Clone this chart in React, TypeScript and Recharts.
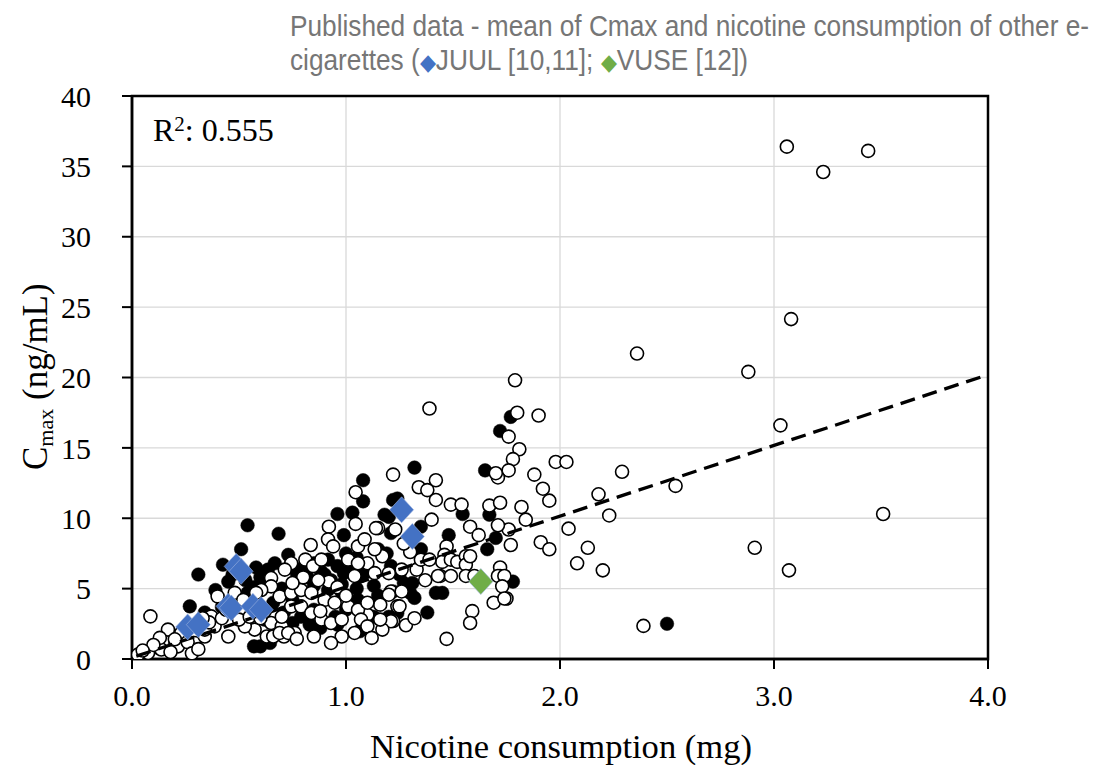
import React from "react";
import { ScatterChart, Scatter, XAxis, YAxis, CartesianGrid, ReferenceArea } from "recharts";

// Nicotine consumption (mg) vs Cmax (ng/mL)
const openCircles: [number, number][] = [
  [3.06, 36.4], [3.44, 36.1], [3.23, 34.6], [3.08, 24.15], [2.36, 21.7], [2.88, 20.4], [3.03, 16.6], [3.51, 10.3], [2.91, 7.9], [3.07, 6.3], [2.39, 2.35],
  [1.79, 19.8], [1.39, 17.8], [1.8, 17.5], [1.9, 17.3], [1.76, 15.8], [1.81, 14.9], [1.78, 14.2], [1.76, 13.4], [1.71, 12.9], [1.88, 13.1], [1.98, 14.0], [2.03, 14.0],
  [1.92, 12.1], [1.95, 11.25], [2.29, 13.3], [2.18, 11.7], [2.54, 12.3], [2.23, 10.2], [2.04, 9.26], [1.82, 10.8], [1.84, 9.9], [1.76, 9.2], [1.77, 8.1], [1.91, 8.3],
  [1.95, 7.8], [2.13, 7.9], [2.08, 6.8], [2.2, 6.3], [1.75, 4.3], [1.72, 6.5], [1.72, 5.9],
  [1.22, 13.1], [1.42, 12.7], [1.34, 12.2], [1.38, 12.0], [1.42, 11.3], [1.49, 10.97], [1.54, 10.97], [1.67, 10.9], [1.72, 11.1], [1.7, 13.2],
  [1.15, 9.3], [1.23, 9.2], [1.4, 9.9], [1.58, 9.4], [1.62, 8.8], [1.71, 9.5], [1.47, 8.0], [1.46, 7.4], [1.45, 6.9], [1.49, 7.06], [1.52, 6.9], [1.56, 7.3],
  [1.56, 6.7], [1.58, 7.3], [1.44, 5.9], [1.49, 5.9], [1.56, 5.9], [1.6, 5.9], [1.71, 5.9], [1.74, 5.9], [1.73, 5.16], [1.69, 4.0], [1.74, 4.3], [1.59, 3.4],
  [1.58, 2.56], [1.47, 1.43], [1.21, 4.8], [1.26, 4.8], [1.24, 3.74], [1.22, 2.7], [1.26, 6.35], [1.33, 6.35], [1.37, 5.6], [1.43, 5.9], [1.35, 7.06], [1.39, 7.06],
  [1.17, 7.3], [1.2, 6.1], [1.2, 4.57], [1.25, 3.74], [1.16, 3.86], [1.21, 2.68], [1.17, 2.09], [1.16, 2.8], [1.1, 3.15],
  [1.045, 11.85], [0.92, 9.4], [1.045, 9.6], [1.14, 9.3], [0.835, 8.1], [0.086, 3.03], [0.916, 8.5], [0.94, 8.0], [0.81, 7.06], [0.846, 6.6], [0.885, 7.06],
  [0.744, 6.8], [0.714, 6.35], [0.65, 5.75], [0.65, 5.16], [0.604, 4.9], [0.58, 4.7], [0.48, 4.7], [0.4, 4.45], [0.69, 4.45], [0.744, 4.7], [0.79, 4.9],
  [0.838, 4.7], [0.9, 4.2], [0.947, 4.0], [1.01, 3.74], [1.056, 3.5], [1.1, 4.0], [0.744, 3.74], [0.79, 3.74], [0.838, 3.27], [0.885, 2.8], [0.93, 2.56],
  [0.98, 2.8], [0.65, 2.56], [0.7, 2.32], [0.573, 2.09], [0.527, 2.32], [0.45, 1.6], [0.293, 1.14], [0.215, 0.9], [0.137, 0.67], [0.075, 0.43], [0.028, 0.31],
  [0.34, 1.6], [0.23, 1.85], [0.168, 2.09], [0.13, 1.5], [0.386, 2.32], [0.37, 3.03], [0.34, 2.09], [1.07, 2.8], [1.1, 2.32], [1.04, 1.85], [0.98, 1.6],
  [0.93, 1.14], [0.85, 1.6], [0.76, 1.85], [0.71, 1.6], [1.134, 7.8], [1.1, 6.8], [1.134, 6.1], [1.056, 8.0], [1.087, 8.5], [1.01, 7.06], [1.056, 6.8],
  [1.04, 5.9], [0.63, 1.6], [0.66, 1.6], [0.69, 1.85], [0.73, 1.85], [0.77, 1.43],
  [0.36, 2.6], [0.42, 2.9], [0.5, 2.8], [0.55, 3.0], [0.6, 2.9], [0.62, 3.4], [0.52, 4.2], [0.44, 3.5], [0.33, 2.9], [0.2, 1.4], [0.26, 1.2], [0.1, 1.0],
  [0.05, 0.6], [0.18, 0.5], [0.28, 0.4], [0.31, 0.7], [0.92, 5.5], [0.96, 5.1], [0.87, 5.6], [0.8, 5.8], [0.75, 5.4], [1.0, 4.5], [0.88, 3.4], [0.7, 3.0],
  [1.28, 2.4], [1.32, 2.9], [1.12, 1.5], [1.3, 7.6], [1.27, 8.2],
];

const filledCircles: [number, number][] = [
  [1.08, 12.7], [1.08, 11.2], [0.96, 10.3], [1.03, 10.4], [0.54, 9.5], [0.685, 8.9], [0.99, 8.8], [0.51, 7.8], [0.31, 6.0], [0.27, 3.74], [0.425, 6.7],
  [0.39, 4.9], [0.45, 5.5], [0.53, 5.6], [0.54, 4.7], [0.635, 6.35], [0.667, 6.8], [0.73, 7.4], [0.77, 6.1], [0.85, 6.8], [0.916, 7.06], [0.96, 6.6],
  [0.99, 6.1], [0.85, 5.2], [0.916, 4.9], [0.98, 4.7], [1.056, 4.2], [1.07, 5.9], [0.62, 2.8], [0.57, 0.9], [0.71, 3.3], [0.79, 3.0], [0.85, 3.5],
  [0.95, 3.0], [1.07, 2.1], [1.13, 5.2], [0.42, 3.7], [0.34, 3.3],
  [1.32, 13.6], [1.65, 13.4], [1.22, 11.3], [1.545, 10.3], [1.67, 10.25], [1.35, 9.4], [1.48, 8.8], [1.7, 8.6], [1.66, 7.8], [1.35, 7.8], [1.21, 6.6],
  [1.31, 5.4], [1.3, 4.7], [1.32, 4.34], [1.42, 4.7], [1.45, 4.7], [1.38, 3.3], [1.78, 5.5], [1.77, 17.2], [1.72, 16.2], [1.2, 10.1], [1.15, 7.8],
  [1.19, 7.5], [1.22, 4.8], [1.27, 5.4], [1.24, 3.27], [1.2, 3.0], [1.13, 3.0], [1.065, 1.97], [0.645, 1.14], [0.6, 0.9], [0.75, 2.56], [0.83, 2.44],
  [0.88, 2.2], [0.96, 2.44], [2.5, 2.5], [1.18, 10.25], [1.21, 8.95], [1.24, 11.4],
  [0.47, 6.0], [0.58, 6.5], [0.6, 5.8], [0.63, 5.2], [0.49, 4.2], [0.57, 5.1], [0.88, 6.3], [0.93, 5.6], [1.02, 6.4], [1.05, 5.0], [1.1, 6.2], [0.82, 5.8],
  [0.98, 5.3], [0.2, 1.0], [0.12, 0.8],
  [0.8, 6.5], [0.9, 6.0], [1.0, 7.5], [1.05, 7.2], [0.7, 5.0], [0.75, 4.2], [1.15, 4.5], [1.25, 6.0], [1.0, 3.5], [0.66, 4.0],
];

const juulPoints: [number, number][] = [
  [0.487, 6.58], [0.51, 6.23], [0.26, 2.28], [0.31, 2.44], [0.449, 3.74], [0.464, 3.63], [0.565, 3.74], [0.604, 3.5], [1.26, 10.6], [1.31, 8.7],
];
const vusePoints: [number, number][] = [[1.63, 5.5]];

const trendX = [0.02, 4.0];
const trendY = [0.2, 20.2];

const xTicks = [0, 1, 2, 3, 4];
const yTicks = [0, 5, 10, 15, 20, 25, 30, 35, 40];

const titleLine1 = "Published data - mean of Cmax and nicotine consumption of other e-";

const toRows = (pts: [number, number][]) => pts.map(([x, y]) => ({ x, y }));
const trendRows = trendX.map((x, i) => ({ x, y: trendY[i] }));

const SERIF = "'Liberation Serif', 'Times New Roman', serif";
const SANS = "'Liberation Sans', Arial, sans-serif";

const OpenDot = (p: any) => <circle cx={p.cx} cy={p.cy} r={6.5} fill="#fff" stroke="#000" strokeWidth={1.6} />;
const FilledDot = (p: any) => <circle cx={p.cx} cy={p.cy} r={6.8} fill="#000" stroke="#000" strokeWidth={0.5} />;
const makeDiamond = (color: string) => (p: any) => (
  <polygon
    points={`${p.cx},${p.cy - 13} ${p.cx + 12},${p.cy} ${p.cx},${p.cy + 13} ${p.cx - 12},${p.cy}`}
    fill={color}
    stroke="#9db3e0"
    strokeWidth={0.6}
  />
);
const NoDot = () => <g />;

export default function App() {
  const W = 1094;
  const H = 757;
  return (
    <div style={{ position: "relative", width: W, height: H }}>
      <ScatterChart width={W} height={H} margin={{ top: 88, right: 114, bottom: 46, left: 64 }}>
        <CartesianGrid stroke="#d9d9d9" strokeWidth={1.3} />
        <XAxis
          type="number"
          dataKey="x"
          domain={[0, 4]}
          ticks={xTicks}
          tickFormatter={(v: number) => v.toFixed(1)}
          height={60}
          tickSize={10}
          tickMargin={16}
          axisLine={{ stroke: "#000", strokeWidth: 2.5 }}
          tickLine={{ stroke: "#000", strokeWidth: 2 }}
          tick={{ fill: "#000", fontSize: 30, fontFamily: SERIF }}
          allowDataOverflow
        />
        <YAxis
          type="number"
          dataKey="y"
          domain={[0, 40]}
          ticks={yTicks}
          width={60}
          tickSize={10}
          tickMargin={31}
          axisLine={{ stroke: "#000", strokeWidth: 2.5 }}
          tickLine={{ stroke: "#000", strokeWidth: 2 }}
          tick={{ fill: "#000", fontSize: 30, fontFamily: SERIF }}
          allowDataOverflow
        />
        <ReferenceArea x1={0} x2={4} y1={0} y2={40} fill="none" stroke="#000" strokeWidth={2.5} ifOverflow="visible" />
        <Scatter data={toRows(filledCircles)} shape={FilledDot} isAnimationActive={false} />
        <Scatter data={toRows(openCircles)} shape={OpenDot} isAnimationActive={false} />
        <Scatter
          data={trendRows}
          shape={NoDot}
          line={{ stroke: "#000", strokeWidth: 3.3, strokeDasharray: "15 8" }}
          isAnimationActive={false}
        />
        <Scatter data={toRows(juulPoints)} shape={makeDiamond("#4472C4")} isAnimationActive={false} />
        <Scatter data={toRows(vusePoints)} shape={makeDiamond("#70AD47")} isAnimationActive={false} />
      </ScatterChart>
      <svg
        width={W}
        height={H}
        style={{ position: "absolute", left: 0, top: 0, pointerEvents: "none" }}
      >
        <g transform="translate(282, 28) scale(0.905, 1)">
          <text x={0} y={0} fontFamily={SANS} fontSize={29} fill="#767676">
            {titleLine1}
          </text>
          <text x={0} y={34} fontFamily={SANS} fontSize={29} fill="#767676">
            cigarettes (<tspan fill="#4472C4" fontSize={23}>◆</tspan>JUUL [10,11]; <tspan fill="#70AD47" fontSize={23}>◆</tspan>VUSE [12])
          </text>
        </g>
        <text x={145} y={133} fontFamily={SERIF} fontSize={32} fill="#000">
          R<tspan dy={-10} fontSize={21}>2</tspan>
          <tspan dy={10}>: 0.555</tspan>
        </text>
        <text transform="translate(39, 462) rotate(-90)" fontFamily={SERIF} fontSize={35} fill="#000">
          C<tspan dy={6} fontSize={22}>max</tspan>
          <tspan dy={-6}> (ng/mL)</tspan>
        </text>
        <text x={362} y={750} fontFamily={SERIF} fontSize={33} fill="#000" textLength={382} lengthAdjust="spacingAndGlyphs">
          Nicotine consumption (mg)
        </text>
      </svg>
    </div>
  );
}
